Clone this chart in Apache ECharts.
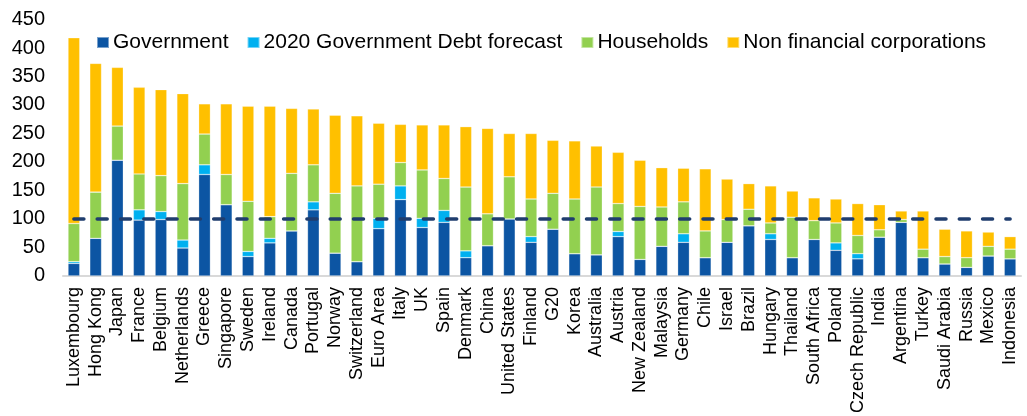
<!DOCTYPE html>
<html>
<head>
<meta charset="utf-8">
<script src="https://cdn.jsdelivr.net/npm/echarts@6/dist/echarts.min.js"></script>
<style>
  html, body { margin: 0; padding: 0; background: #fff; }
  #chart { width: 1027px; height: 416px; }
</style>
</head>
<body>
<div id="chart"></div>
<script>
// data (% of GDP)
const countries = ["Luxembourg", "Hong Kong", "Japan", "France", "Belgium", "Netherlands", "Greece", "Singapore",
  "Sweden", "Ireland", "Canada", "Portugal", "Norway", "Switzerland", "Euro Area", "Italy", "UK", "Spain",
  "Denmark", "China", "United States", "Finland", "G20", "Korea", "Australia", "Austria", "New Zealand",
  "Malaysia", "Germany", "Chile", "Israel", "Brazil", "Hungary", "Thailand", "South Africa", "Poland",
  "Czech Republic", "India", "Argentina", "Turkey", "Saudi Arabia", "Russia", "Mexico", "Indonesia"];

const government = [22, 66, 203, 98, 99, 49, 178, 125, 34, 58, 79, 116, 40, 25, 83, 134, 85, 94,
  32, 53, 100, 59, 82, 39, 37, 69, 29, 52, 59, 32, 59, 88, 64, 32, 64, 45, 30, 68, 94, 32, 21, 15, 35, 30];

const govForecast = [3, 0, 0, 18, 14, 14, 17, 0, 9, 8, 0, 14, 0, 0, 18, 24, 16, 21,
  12, 0, 0, 10, 0, 0, 0, 9, 0, 0, 15, 0, 0, 0, 10, 0, 0, 13, 9, 0, 0, 0, 0, 0, 0, 0];

const households = [67, 81, 60, 63, 63, 99, 54, 53, 88, 38, 101, 65, 105, 133, 60, 41, 85, 56,
  112, 56, 74, 66, 63, 96, 119, 49, 93, 69, 56, 47, 40, 29, 19, 71, 33, 35, 32, 13, 5, 15, 13, 17, 17, 17];

const nonFinCorp = [326, 226, 103, 152, 151, 158, 53, 124, 167, 194, 114, 98, 137, 123, 107, 67, 79, 94,
  106, 150, 76, 115, 93, 102, 72, 90, 81, 69, 59, 109, 71, 45, 65, 46, 40, 42, 56, 44, 15, 67, 48, 47, 25, 22];

const threshold = 100;
const yTicks = { min: 0, max: 450, interval: 50 };

const font = "'Liberation Sans', Arial, sans-serif";

const chart = echarts.init(document.getElementById("chart"));

const barSeries = (name, data, color) => ({
  name: name,
  type: "bar",
  stack: "debt",
  data: data,
  barCategoryGap: "46%",
  itemStyle: { color: color, borderColor: "rgba(255,255,255,0.45)", borderWidth: 0.6 },
  emphasis: { disabled: true },
});

const series = [
  barSeries("Government", government, "#0C55A3"),
  barSeries("2020 Government Debt forecast", govForecast, "#00B0F0"),
  barSeries("Households", households, "#92D050"),
  barSeries("Non financial corporations", nonFinCorp, "#FFC000"),
];

// dashed 100% reference line, from first to last category
series[3].markLine = {
  silent: true,
  symbol: "none",
  label: { show: false },
  lineStyle: { color: "#1F3D6E", type: [10, 13.3], width: 3.5, cap: "round" },
  data: [[
    { xAxis: countries[0], yAxis: threshold },
    { xAxis: countries[countries.length - 1], yAxis: threshold },
  ]],
};

chart.setOption({
  animation: false,
  textStyle: { fontFamily: font },
  grid: { left: 63, right: 6, top: 19.5, bottom: 140 },
  legend: {
    left: 91,
    top: 27,
    itemWidth: 12,
    itemHeight: 11,
    itemGap: 18,
    icon: "rect",
    textStyle: { fontFamily: font, fontSize: 21, color: "#000", padding: [2, 0, 0, -1] },
    data: series.map(s => s.name),
  },
  xAxis: {
    type: "category",
    data: countries,
    axisLine: { lineStyle: { color: "#D9D9D9", width: 2 } },
    axisTick: { show: false },
    axisLabel: {
      interval: 0,
      rotate: 90,
      margin: 11,
      fontFamily: font,
      fontSize: 18,
      color: "#000",
    },
  },
  yAxis: {
    type: "value",
    min: yTicks.min,
    max: yTicks.max,
    interval: yTicks.interval,
    splitLine: { show: false },
    axisLine: { show: false },
    axisTick: { show: false },
    axisLabel: { margin: 18, fontFamily: font, fontSize: 20, color: "#000" },
  },
  series: series,
});
</script>
</body>
</html>
